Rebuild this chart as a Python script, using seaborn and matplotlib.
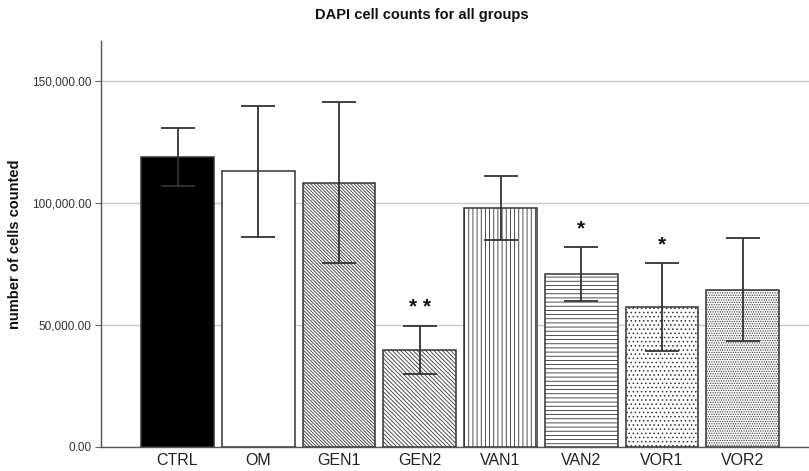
import matplotlib
matplotlib.use("Agg")
import matplotlib.pyplot as plt
import seaborn as sns
import pandas as pd
import numpy as np
from matplotlib.ticker import FuncFormatter

groups = ["CTRL", "OM", "GEN1", "GEN2", "VAN1", "VAN2", "VOR1", "VOR2"]
means = [118900, 113000, 108300, 39750, 98100, 70850, 57300, 64500]
errors = [11900, 26850, 33000, 9850, 13100, 11000, 17900, 21100]
stars = ["", "", "", "* *", "", "*", "*", ""]

facecolors = ["black", "white", "white", "white", "white", "white", "white", "white"]
hatches = ["", "", "\\" * 10, "\\" * 8, "|" * 4, "-" * 4, "." * 4, "." * 7]

df = pd.DataFrame({"group": groups, "count": means})

sns.set_style("white")
plt.rcParams["font.family"] = ["Liberation Sans", "DejaVu Sans"]
plt.rcParams["hatch.color"] = "#666666"
plt.rcParams["hatch.linewidth"] = 0.6

fig = plt.figure(figsize=(8.09, 4.71), dpi=100)
ax = fig.add_axes([0.1248, 0.051, 0.8752, 0.862])

sns.barplot(data=df, x="group", y="count", order=groups, errorbar=None,
            width=0.9, ax=ax, color="white", zorder=3)

for p, fc, h in zip(ax.patches, facecolors, hatches):
    p.set_facecolor(fc)
    p.set_edgecolor("#333333")
    p.set_linewidth(1.1)
    p.set_hatch(h)

x = np.arange(len(groups))
ax.errorbar(x, means, yerr=errors, fmt="none", ecolor="#333333",
            elinewidth=1.3, capsize=12, capthick=1.3, zorder=4)

for xi, m, e, s in zip(x, means, errors, stars):
    if s:
        ax.text(xi, m + e + 3800, s, ha="center", va="bottom",
                fontsize=15, fontweight="bold", color="#111111", zorder=5)

ax.set_ylim(0, 166400)
ax.set_xlim(-0.948, 7.82)
ax.set_yticks([0, 50000, 100000, 150000])
ax.yaxis.set_major_formatter(FuncFormatter(lambda v, p: f"{v:,.2f}"))
ax.yaxis.grid(True, color="#c8c8c8", linewidth=1.0, zorder=0)
ax.set_axisbelow(True)
ax.tick_params(axis="y", left=True, length=4, color="#666666", labelsize=8.5,
               labelcolor="#333333", pad=3)
ax.tick_params(axis="x", bottom=False, labelsize=11.5, labelcolor="#222222", pad=1)

for side in ["top", "right"]:
    ax.spines[side].set_visible(False)
for side in ["left", "bottom"]:
    ax.spines[side].set_color("#555555")
    ax.spines[side].set_linewidth(1.0)

ax.set_xlabel("")
ax.set_ylabel("number of cells counted", fontsize=10.5, fontweight="bold",
              color="#111111")
ax.yaxis.set_label_coords(-0.112, 0.5)
fig.suptitle("DAPI cell counts for all groups", x=0.522, y=0.982,
             fontsize=10.5, fontweight="bold", color="#111111")

fig.savefig("out.png", dpi=100)
